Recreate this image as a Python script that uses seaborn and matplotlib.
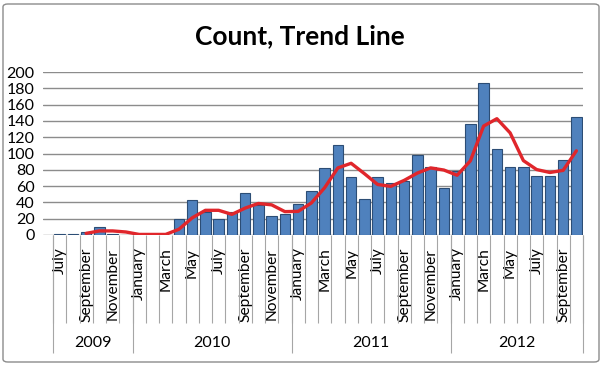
import seaborn as sns
import matplotlib.pyplot as plt
import matplotlib.transforms as mtransforms
from matplotlib.patches import FancyBboxPatch
import numpy as np
import pandas as pd

# data (Jul 2009 .. Oct 2012)
months = ['July', 'August', 'September', 'October', 'November', 'December'] + \
    ['January', 'February', 'March', 'April', 'May', 'June', 'July', 'August',
     'September', 'October', 'November', 'December'] * 2 + \
    ['January', 'February', 'March', 'April', 'May', 'June', 'July', 'August',
     'September', 'October']
years = ['2009'] * 6 + ['2010'] * 12 + ['2011'] * 12 + ['2012'] * 10

counts = [1, 1, 4, 10, 1, 0,
          1, 1, 0, 20, 43, 28, 20, 28, 51, 37, 23, 26,
          38, 54, 82, 111, 71, 44, 71, 64, 66, 98, 83, 58,
          79, 136, 186, 106, 84, 84, 73, 73, 92, 145]

# trend line (3 period moving average as drawn)
trend = [np.nan, np.nan, 2.0, 5.0, 5.0, 3.7,
         0.7, 0.7, 0.7, 7.0, 21.0, 30.3, 30.3, 25.3, 33.0, 38.7, 37.0, 28.7,
         29.0, 39.3, 58.0, 82.3, 88.0, 75.3, 62.0, 59.7, 67.0, 76.0, 82.3, 79.7,
         73.3, 91.0, 133.7, 142.7, 125.3, 91.3, 80.3, 76.7, 79.3, 103.3]

df = pd.DataFrame({'pos': range(len(counts)), 'month': months, 'year': years,
                   'count': counts, 'trend': trend})

sns.set_style('white')
plt.rcParams['font.family'] = ['Lato', 'DejaVu Sans']
plt.rcParams['text.color'] = 'black'
plt.rcParams['xtick.color'] = 'black'
plt.rcParams['ytick.color'] = 'black'

W, H = 604, 365
fig = plt.figure(figsize=(W / 100, H / 100), dpi=100)
# axes from x=43 (tick start) to 583, y from 72 to 235 (pixels)
ax = fig.add_axes([43 / W, 1 - 235 / H, 540 / W, 163 / H])

n = len(counts)
unit = 530 / n
sns.barplot(data=df, x='pos', y='count', color='#4F81BD', edgecolor='#2C4D75',
            linewidth=0.8, width=0.8, saturation=1, ax=ax, zorder=3)
sns.lineplot(data=df, x='pos', y='trend', color='#E0262B', linewidth=2.4,
             ax=ax, zorder=4)

ax.set_xlim(-0.5 - 10 / unit, n - 0.5)
ax.set_ylim(0, 200)
ax.set_yticks(range(0, 201, 20))
ax.yaxis.grid(True, color='#8C8C8C', linewidth=1)
ax.set_axisbelow(True)
for s in ax.spines.values():
    s.set_visible(False)
ax.tick_params(axis='y', length=0, pad=6, labelsize=11.5)
ax.set_xlabel('')
ax.set_ylabel('')

# month labels every other category
ax.set_xticks(df['pos'][::2])
ax.set_xticklabels(df['month'][::2], rotation=90, fontsize=11.2, va='top')
ax.tick_params(axis='x', length=0, pad=9)

# category separators and year groups below the axis
trans = mtransforms.blended_transform_factory(ax.transData, ax.transAxes)
edges = np.arange(n + 1) - 0.5
ax.vlines(edges, -0.54, 0, transform=trans, color='#A6A6A6', linewidth=0.8,
          clip_on=False)
year_starts = [i for i in range(n) if i == 0 or years[i] != years[i - 1]] + [n]
ax.vlines(np.array(year_starts) - 0.5, -0.725, 0, transform=trans,
          color='#A6A6A6', linewidth=0.8, clip_on=False)
for a, b in zip(year_starts[:-1], year_starts[1:]):
    ax.text((a + b - 1) / 2, -0.66, years[a], transform=trans, ha='center',
            va='center', fontsize=11.5)

fig.text(300 / W, 1 - 36 / H, 'Count, Trend Line', ha='center', va='center',
         fontsize=19, fontweight='bold')

border = FancyBboxPatch((3 / W, 3 / H), 596 / W, 358 / H,
                        boxstyle='round,pad=0,rounding_size=0.008',
                        transform=fig.transFigure, fill=False,
                        edgecolor='#8C8C8C', linewidth=1)
fig.patches.append(border)

fig.savefig('out.png', dpi=100)
